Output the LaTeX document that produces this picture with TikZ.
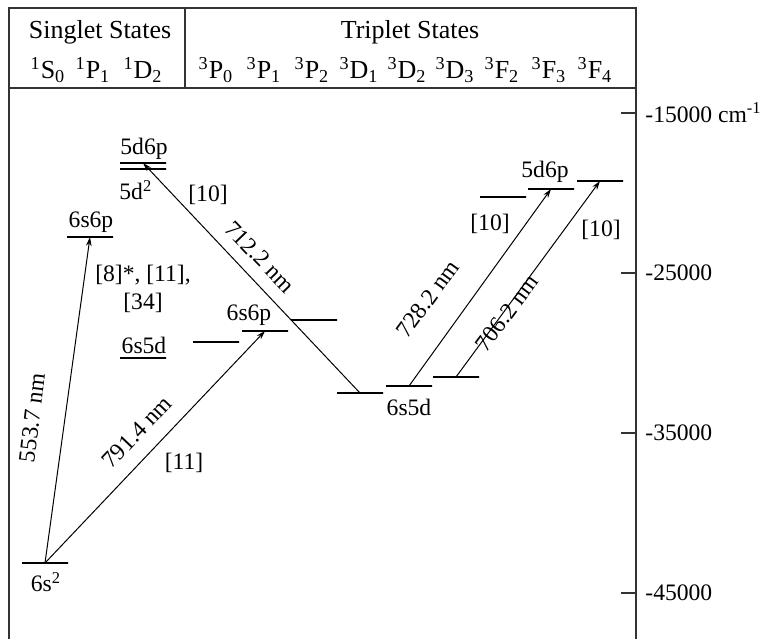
\documentclass[tikz,border=0pt]{standalone}
\usepackage{fontspec}
\setmainfont{Liberation Serif}
\usetikzlibrary{arrows.meta}

\begin{document}
\begin{tikzpicture}[
  x=0.5pt, y=-0.5pt,
  frame/.style={black!80, line width=0.8pt},
  level/.style={draw, line width=0.6pt, inner sep=0pt, minimum width=23pt, minimum height=0pt},
  trans/.style={line width=0.5pt, -{Stealth[length=4.5pt, width=2.8pt]}},
  head/.style={font=\fontsize{13}{15}\selectfont, inner sep=0pt},
  lbl/.style={font=\fontsize{11.8}{14}\selectfont, inner sep=0pt, align=center}
]
  \useasboundingbox (0,0) rectangle (761,639);

  % Frame and energy axis
  \draw[frame] (9,639) -- (9,8) -- (636,8) -- (636,639);
  \draw[frame] (9,88) -- (636,88);
  \draw[frame] (185,8) -- (185,88);
  \draw[frame] (621,113) -- (636,113);
  \draw[frame] (621,273) -- (636,273);
  \draw[frame] (621,433) -- (636,433);
  \draw[frame] (621,593) -- (636,593);
  \node[lbl, anchor=west] (e15) at (645,113) {-15000 cm\textsuperscript{-1}};
  \node[lbl, anchor=west] (e25) at (645,273) {-25000};
  \node[lbl, anchor=west] (e35) at (645,433) {-35000};
  \node[lbl, anchor=west] (e45) at (645,593) {-45000};

  % Header
  \node[head] (singlet) at (100,32) {Singlet States};
  \node[head] (triplet) at (410,32) {Triplet States};
  \node[head] (cS0) at (48,70) {\textsuperscript{1}S\textsubscript{0}};
  \node[head] (cP1) at (93,70) {\textsuperscript{1}P\textsubscript{1}};
  \node[head] (cD2) at (143,70) {\textsuperscript{1}D\textsubscript{2}};
  \node[head] (tP0) at (216,70) {\textsuperscript{3}P\textsubscript{0}};
  \node[head] (tP1) at (264,70) {\textsuperscript{3}P\textsubscript{1}};
  \node[head] (tP2) at (312,70) {\textsuperscript{3}P\textsubscript{2}};
  \node[head] (tD1) at (359,70) {\textsuperscript{3}D\textsubscript{1}};
  \node[head] (tD2) at (407,70) {\textsuperscript{3}D\textsubscript{2}};
  \node[head] (tD3) at (455,70) {\textsuperscript{3}D\textsubscript{3}};
  \node[head] (tF2) at (502,70) {\textsuperscript{3}F\textsubscript{2}};
  \node[head] (tF3) at (549,70) {\textsuperscript{3}F\textsubscript{3}};
  \node[head] (tF4) at (595,70) {\textsuperscript{3}F\textsubscript{4}};

  % Singlet levels
  \node[level] (s0) at (45,563) {};
  \node[level] (sp1) at (90,237) {};
  \node[level] (sdp) at (143,163) {};
  \node[level] (sdd) at (143,169) {};
  \node[level] (sd2) at (143,358) {};

  % Triplet levels
  \node[level] (p0) at (216,342) {};
  \node[level] (p1) at (265,331) {};
  \node[level] (p2) at (314,320) {};
  \node[level] (d1) at (360,393) {};
  \node[level] (d2) at (409,386) {};
  \node[level] (d3) at (456,377) {};
  \node[level] (f2) at (503,197) {};
  \node[level] (f3) at (551,189) {};
  \node[level] (f4) at (600,181) {};

  % Level names
  \node[lbl] (n5d6p) at (144,149) {5d6p};
  \node[lbl, anchor=west] (n5dd) at (119,190) {5d\textsuperscript{2}};
  \node[lbl] (n6s6p) at (91,222) {6s6p};
  \node[lbl] (n6s5d) at (144,345) {6s5d};
  \node[lbl] (n6ss) at (46,582) {6s\textsuperscript{2}};
  \node[lbl] (t6s6p) at (249,315) {6s6p};
  \node[lbl] (t6s5d) at (409,407) {6s5d};
  \node[lbl] (t5d6p) at (545,172) {5d6p};

  % Transitions
  \draw[trans] (s0.center) -- (sp1.center);
  \draw[trans] (s0.center) -- (p1.center);
  \draw[trans] (d1.center) -- (sdp.center);
  \draw[trans] (d2.center) -- (f3.center);
  \draw[trans] (d3.center) -- (f4.center);

  % Wavelengths and references
  \node[lbl, rotate=83] (w553) at (32,418) {553.7 nm};
  \node[lbl, rotate=46.4] (w791) at (137,432) {791.4 nm};
  \node[lbl, rotate=-46] (w712) at (260,257) {712.2 nm};
  \node[lbl, rotate=53.7] (w728) at (428,299) {728.2 nm};
  \node[lbl, rotate=53.2] (w706) at (507,313) {706.2 nm};
  \node[lbl] (r834) at (143,289) {[8]*, [11],\\{}[34]};
  \node[lbl] (r11) at (184,463) {[11]};
  \node[lbl] (r10a) at (208,195) {[10]};
  \node[lbl] (r10b) at (490,224) {[10]};
  \node[lbl] (r10c) at (601,230) {[10]};

\end{tikzpicture}
\end{document}
